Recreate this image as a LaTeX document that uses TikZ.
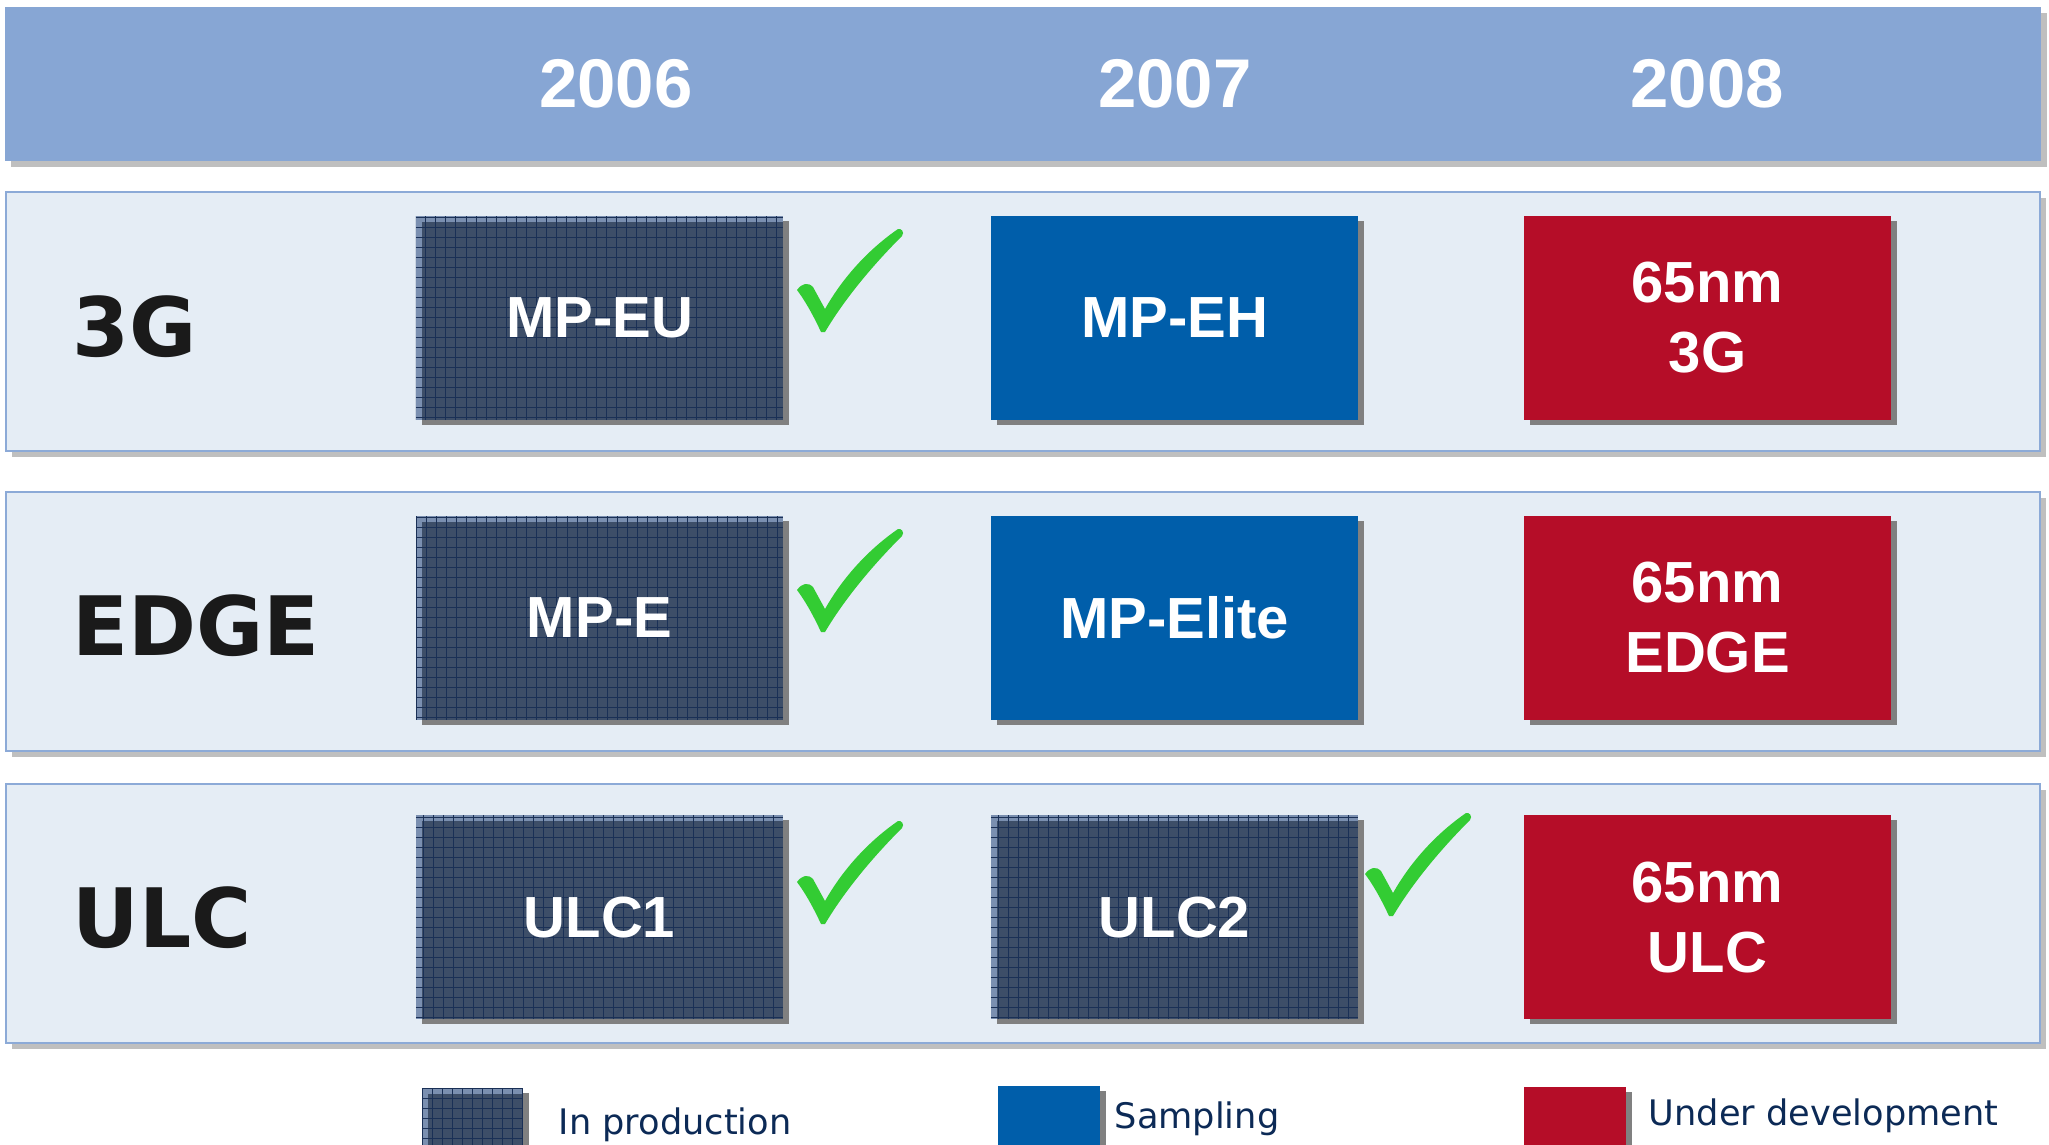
\documentclass[tikz,border=0pt]{standalone}
\usepackage{fontspec}
\setmainfont{Liberation Sans}
\newfontfamily\labelfamily{DejaVu Sans}
\usetikzlibrary{shapes.geometric, shadows}

\definecolor{headblue}{RGB}{135,166,212}
\definecolor{bandfill}{RGB}{229,237,245}
\definecolor{bandline}{RGB}{140,170,215}
\definecolor{bandshadow}{RGB}{191,191,191}
\definecolor{chipshadow}{RGB}{128,128,128}
\definecolor{prodlight}{RGB}{122,143,176}
\definecolor{proddark}{RGB}{61,78,104}
\definecolor{prodgrid}{RGB}{26,48,86}
\definecolor{sampblue}{RGB}{0,94,170}
\definecolor{develred}{RGB}{181,13,40}
\definecolor{labelblack}{RGB}{26,26,26}
\definecolor{legendnavy}{RGB}{12,42,86}
\definecolor{tickgreen}{RGB}{51,204,51}

\tikzstyle{headbar} = [rectangle, fill=headblue, minimum width=20.34cm, minimum height=1.54cm, drop shadow={shadow xshift=0.06cm, shadow yshift=-0.06cm, fill=bandshadow, opacity=1}]
\tikzstyle{year} = [anchor=base, inner sep=0pt, text=white, font=\fontsize{19.6}{23}\selectfont\bfseries]
\tikzstyle{band} = [rectangle, fill=bandfill, draw=bandline, line width=0.02cm, minimum width=20.32cm, minimum height=2.59cm, drop shadow={shadow xshift=0.06cm, shadow yshift=-0.06cm, fill=bandshadow, opacity=1}]
\tikzstyle{rowlabel} = [anchor=base west, inner sep=0pt, text=labelblack, font=\labelfamily\fontsize{23.3}{28}\selectfont\bfseries]
\tikzstyle{chip} = [rectangle, minimum width=3.67cm, minimum height=2.04cm, inner sep=0pt, align=center, text=white, font=\fontsize{16.5}{19.9}\selectfont\bfseries, drop shadow={shadow xshift=0.06cm, shadow yshift=-0.05cm, fill=chipshadow, opacity=1}]
\tikzstyle{meshfill} = [fill=prodlight, path picture={
	\fill[proddark] ([xshift=0.06cm, yshift=-0.06cm]path picture bounding box.north west) rectangle (path picture bounding box.south east);
	\draw[prodgrid, line width=0.01cm, step=0.1cm] (path picture bounding box.south west) grid (path picture bounding box.north east);
}]
\tikzstyle{prod} = [chip, meshfill]
\tikzstyle{samp} = [chip, fill=sampblue]
\tikzstyle{devel} = [chip, fill=develred]
\tikzstyle{key} = [rectangle, minimum width=1.01cm, minimum height=1.01cm, inner sep=0pt, drop shadow={shadow xshift=0.06cm, shadow yshift=-0.05cm, fill=chipshadow, opacity=1}]
\tikzstyle{keytext} = [anchor=base west, inner sep=0pt, text=legendnavy, font=\labelfamily\fontsize{10}{12}\selectfont]
\tikzstyle{tick} = [fill=tickgreen]

% green check mark, #1 is its top left corner
\newcommand{\donetick}[1]{\fill[tick, shift={(#1)}] (0,61) .. controls (5,54) and (11,53) .. (16,58) -- (28,80) .. controls (46,48) and (72,20) .. (101,0) .. controls (104,-1) and (108,3) .. (105,7) .. controls (80,32) and (50,66) .. (28,103) -- (24,103) .. controls (17,88) and (9,73) .. cycle;}

\begin{document}
\begin{tikzpicture}[x=0.01cm, y=-0.01cm, node distance=2.995cm]
	\useasboundingbox[fill=white] (0,0) rectangle (2049,1144);

	\node (header) [headbar] at (1023,84) {};
	\node (y2006) [year] at (616,107) {2006};
	\node (y2007) [year] at (1175,107) {2007};
	\node (y2008) [year] at (1707,107) {2008};

	\node (band3g) [band] at (1023,321.5) {};
	\node (bandedge) [band] at (1023,621.5) {};
	\node (bandulc) [band] at (1023,913.5) {};

	\node (lab3g) [rowlabel] at (72,356) {3G};
	\node (labedge) [rowlabel] at (72,655) {EDGE};
	\node (labulc) [rowlabel] at (72,947) {ULC};

	\node (mpeu) [prod] at (599.5,318) {MP-EU};
	\node (mpeh) [samp] at (1174.5,318) {MP-EH};
	\node (nm3g) [devel] at (1707.5,318) {65nm\\3G};

	\node (mpe) [prod, below of=mpeu] {MP-E};
	\node (mpelite) [samp, below of=mpeh] {MP-Elite};
	\node (nmedge) [devel, below of=nm3g] {65nm\\EDGE};

	\node (ulc1) [prod, below of=mpe] {ULC1};
	\node (ulc2) [prod, below of=mpelite] {ULC2};
	\node (nmulc) [devel, below of=nmedge] {65nm\\ULC};

	\donetick{797,229}
	\donetick{797,529}
	\donetick{797,821}
	\donetick{1365,813}

	% legend
	\node (keyprod) [key, meshfill] at (472.5,1138.5) {};
	\node (keyprodtext) [keytext] at (558,1134) {In production};
	\node (keysamp) [key, fill=sampblue] at (1049,1136.5) {};
	\node (keysamptext) [keytext] at (1114,1128) {Sampling};
	\node (keydevel) [key, fill=develred] at (1575,1137.5) {};
	\node (keydeveltext) [keytext] at (1648,1125) {Under development};
\end{tikzpicture}
\end{document}
